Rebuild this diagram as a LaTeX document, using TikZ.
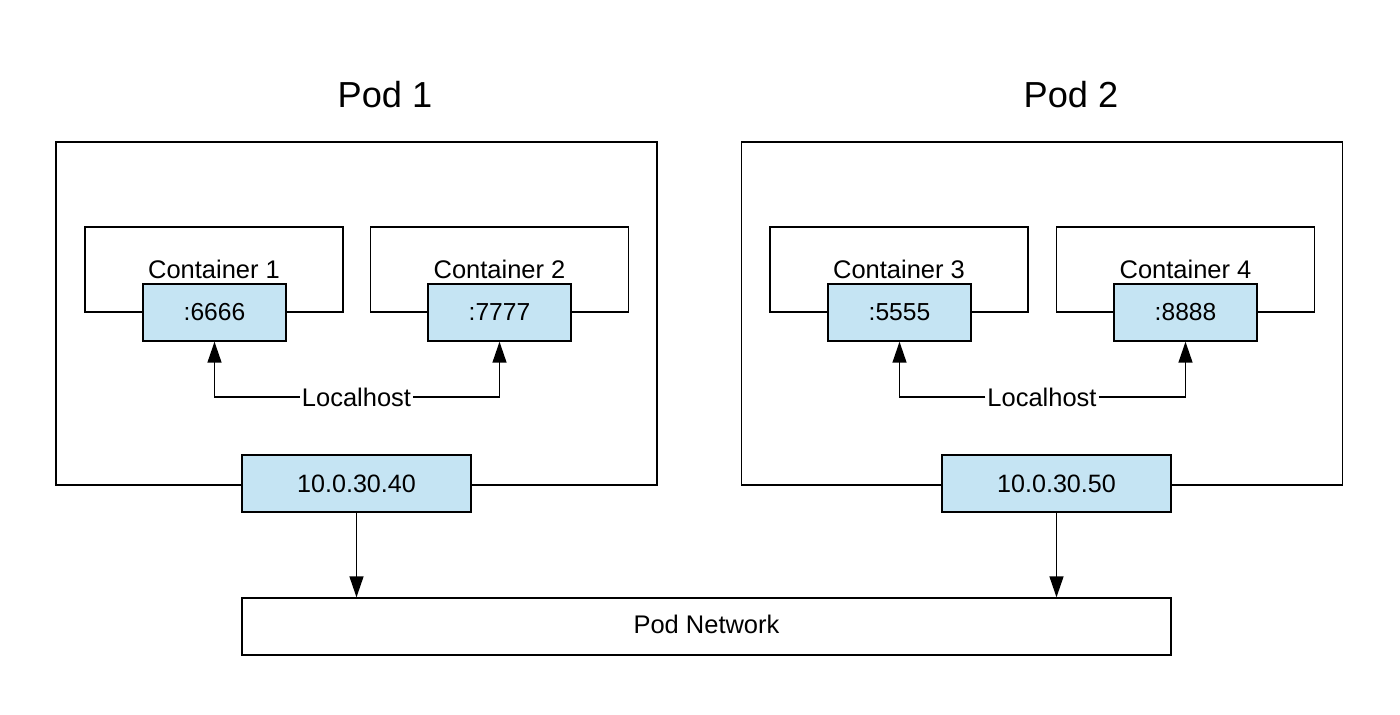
\documentclass[tikz,border=0pt]{standalone}
\usepackage{fontspec}
\setmainfont{Liberation Sans}
\usepackage{xcolor}
\usetikzlibrary{arrows.meta, positioning}
\definecolor{portblue}{RGB}{197,228,243}

\begin{document}
\begin{tikzpicture}[x=0.02cm, y=-0.02cm,
    podbox/.style={rectangle, draw, line width=0.8pt, minimum width=12.02cm, minimum height=6.86cm},
    ctrbox/.style={rectangle, draw, line width=0.7pt, minimum width=5.16cm, minimum height=1.7cm, font=\fontsize{14.5}{17}\selectfont},
    portbox/.style={rectangle, draw, line width=0.8pt, fill=portblue, minimum width=2.86cm, minimum height=1.14cm, font=\fontsize{14}{17}\selectfont},
    ipbox/.style={portbox, minimum width=4.58cm, font=\fontsize{14.3}{17}\selectfont},
    netbox/.style={rectangle, draw, line width=0.8pt, minimum width=18.58cm, minimum height=1.14cm, font=\fontsize{14.5}{17}\selectfont},
    arrow/.style={-{Triangle[length=0.42cm, width=0.28cm]}, line width=0.8pt}
]
\useasboundingbox (0,0) rectangle (1400,714);

% pods
\node[font=\fontsize{20.6}{24}\selectfont] (t1) at (385,95) {Pod 1};
\node[font=\fontsize{20.6}{24}\selectfont] (t2) at (1071,95) {Pod 2};
\node[podbox] (pod1) at (356.5,313.5) {};
\node[podbox] (pod2) at (1042,313.5) {};

% containers
\node[ctrbox] (c1) at (214,269.5) {Container 1};
\node[ctrbox] (c2) at (499.5,269.5) {Container 2};
\node[ctrbox] (c3) at (899,269.5) {Container 3};
\node[ctrbox] (c4) at (1185.5,269.5) {Container 4};

\node[portbox] (p1) at (214.5,312.5) {:6666};
\node[portbox] (p2) at (499.5,312.5) {:7777};
\node[portbox] (p3) at (899.5,312.5) {:5555};
\node[portbox] (p4) at (1185.5,312.5) {:8888};

% localhost links
\node[inner sep=1pt, font=\fontsize{14.5}{17}\selectfont] (lh1) at (356.5,397) {Localhost};
\node[inner sep=1pt, font=\fontsize{14.5}{17}\selectfont] (lh2) at (1042,397) {Localhost};
\draw[arrow] (lh1.west) -| (p1);
\draw[arrow] (lh1.east) -| (p2);
\draw[arrow] (lh2.west) -| (p3);
\draw[arrow] (lh2.east) -| (p4);

% pod addresses and network
\node[ipbox] (ip1) at (356.5,483.5) {10.0.30.40};
\node[ipbox] (ip2) at (1056.5,483.5) {10.0.30.50};
\node[netbox] (net) at (706.5,626.5) {\raisebox{2pt}{Pod Network}};

\draw[arrow] (ip1) -- (ip1 |- net.north);
\draw[arrow] (ip2) -- (ip2 |- net.north);

\end{tikzpicture}
\end{document}
